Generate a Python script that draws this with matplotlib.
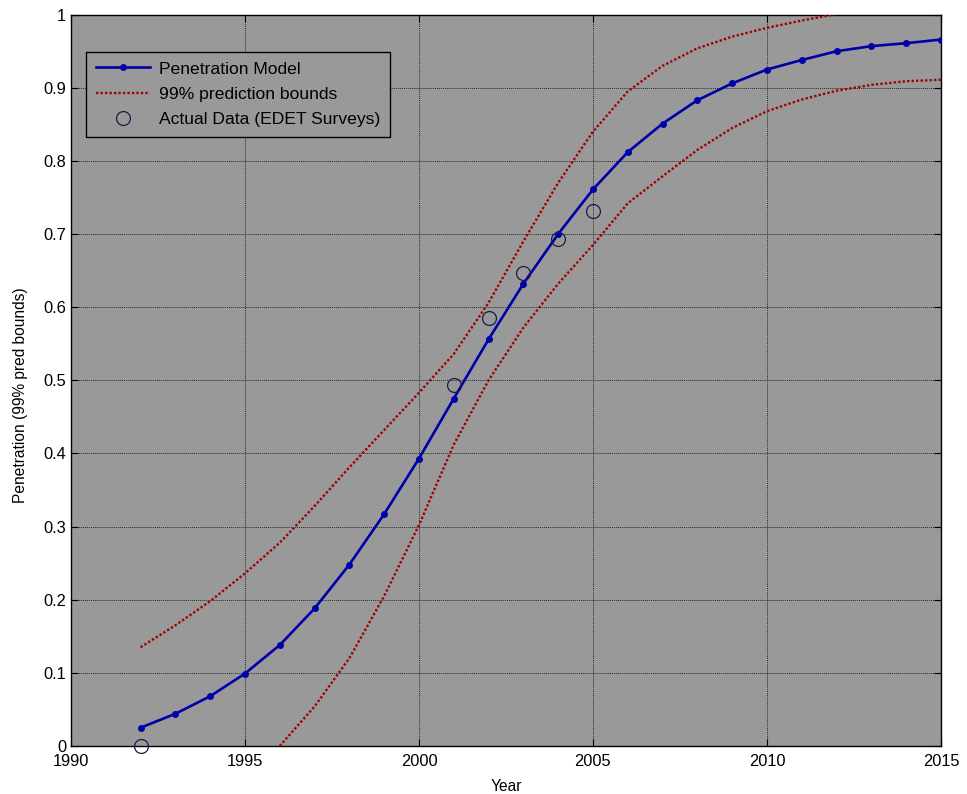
import matplotlib
matplotlib.use("Agg")
import matplotlib.pyplot as plt

plt.rcParams['font.family'] = ['Liberation Sans', 'DejaVu Sans']

years = list(range(1992, 2016))
model = [0.025, 0.044, 0.068, 0.099, 0.138, 0.188, 0.248, 0.317, 0.393, 0.475,
         0.556, 0.632, 0.700, 0.761, 0.812, 0.851, 0.883, 0.906, 0.925, 0.938,
         0.950, 0.957, 0.961, 0.966]
upper = [0.135, 0.165, 0.198, 0.236, 0.278, 0.328, 0.381, 0.432, 0.483, 0.536,
         0.606, 0.690, 0.770, 0.840, 0.895, 0.930, 0.954, 0.970, 0.982, 0.992,
         1.001, 1.008, 1.013, 1.017]
lower_years = list(range(1996, 2016))
lower = [0.000, 0.054, 0.120, 0.205, 0.302, 0.412, 0.500, 0.572, 0.632, 0.685,
         0.742, 0.779, 0.815, 0.845, 0.868, 0.884, 0.896, 0.904, 0.909, 0.911]
actual_years = [1992, 2001, 2002, 2003, 2004, 2005]
actual = [0.000, 0.494, 0.585, 0.647, 0.693, 0.732]

xticks = [1990, 1995, 2000, 2005, 2010, 2015]
yticks = [0, 0.1, 0.2, 0.3, 0.4, 0.5, 0.6, 0.7, 0.8, 0.9, 1]
ytick_labels = ['0', '0.1', '0.2', '0.3', '0.4', '0.5', '0.6', '0.7', '0.8', '0.9', '1']

fig = plt.figure(figsize=(9.67, 7.94), dpi=100)
ax = fig.add_axes([0.0734, 0.0605, 0.8996, 0.9210])
ax.set_facecolor('#999999')

blue = '#0000A8'
red = '#A00000'
fs_tick = 11.8
fs_label = 11.2
fs_leg = 12.6

ax.plot(years, model, color=blue, lw=1.9, marker='o', markersize=4,
        markerfacecolor=blue, markeredgecolor=blue, label='Penetration Model', zorder=4)
ax.plot(years, upper, color=red, lw=1.7, linestyle=(0, (1, 0.9)),
        label='99% prediction bounds', zorder=3)
ax.plot(lower_years, lower, color=red, lw=1.7, linestyle=(0, (1, 0.9)), zorder=3)
ax.plot(actual_years, actual, linestyle='none', marker='o', markersize=10,
        markerfacecolor='none', markeredgecolor='#1a1a4d', markeredgewidth=0.9,
        label='Actual Data (EDET Surveys)', zorder=5, clip_on=False)

ax.set_xlim(1990, 2015)
ax.set_ylim(0, 1)
ax.set_xticks(xticks)
ax.set_xticklabels([str(x) for x in xticks])
ax.set_yticks(yticks)
ax.set_yticklabels(ytick_labels)
ax.tick_params(direction='in', top=True, right=True, labelsize=fs_tick, length=5,
               width=0.8, colors='black')
ax.tick_params(axis='x', pad=6.0)
ax.tick_params(axis='y', pad=3.5)
ax.grid(True, color='#2a2a2a', linestyle=(0, (1, 1)), linewidth=0.7)
ax.set_axisbelow(True)
for s in ax.spines.values():
    s.set_linewidth(1.0)
    s.set_color('black')

ax.set_xlabel('Year', fontsize=fs_label, labelpad=7)
ax.set_ylabel('Penetration (99% pred bounds)', fontsize=fs_label)
ax.yaxis.set_label_coords(-0.0494, 0.48)

leg = ax.legend(loc='upper left', bbox_to_anchor=(0.01724, 0.9494), borderaxespad=0,
                fontsize=fs_leg, frameon=True, fancybox=False, facecolor='#999999',
                edgecolor='black', framealpha=1, handlelength=3.1, borderpad=0.55,
                labelspacing=0.58, handletextpad=0.5)
leg.get_frame().set_linewidth(1.0)

fig.savefig('out.png', dpi=100)
